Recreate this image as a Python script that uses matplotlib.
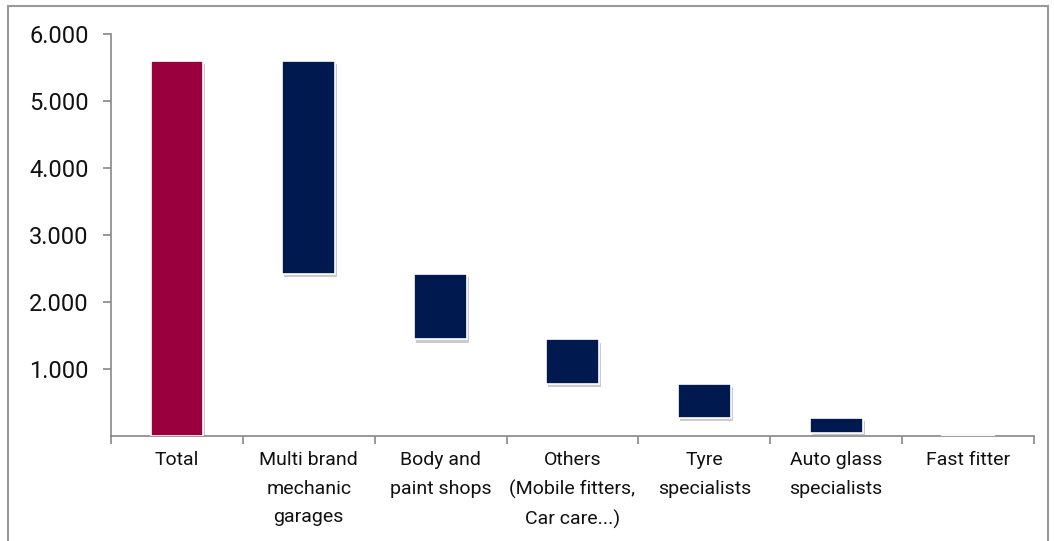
import matplotlib.pyplot as plt
import matplotlib.patheffects as pe
from matplotlib.patches import Rectangle
from matplotlib.ticker import FuncFormatter
import numpy as np

# waterfall data
categories = ["Total", "Multi brand\nmechanic\ngarages", "Body and\npaint shops",
              "Others\n(Mobile fitters,\nCar care...)", "Tyre\nspecialists",
              "Auto glass\nspecialists", "Fast fitter"]
total = 5600
steps = [3180, 975, 665, 505, 235, 40]

plt.rcParams['font.family'] = ['Roboto', 'DejaVu Sans']

heights = np.array([total] + steps, dtype=float)
bottoms = np.zeros(len(heights))
level = total
for i, s in enumerate(steps, start=1):
    level -= s
    bottoms[i] = level

colors = ["#9B003E"] + ["#001A4F"] * (len(steps) - 1) + ["#F4F4F4"]

fig = plt.figure(figsize=(10.54, 5.41), dpi=100)
ax = fig.add_axes([0.1053, 0.194, 0.8757, 0.743])

x = np.arange(len(categories))
shadow = [pe.SimplePatchShadow(offset=(1.5, -2.5), shadow_rgbFace="#999999", alpha=0.5), pe.Normal()]
bars = ax.bar(x, heights, bottom=bottoms, width=0.4, color=colors,
              edgecolor="white", linewidth=1.2, zorder=3)
for b in bars[:-1]:
    b.set_path_effects(shadow)

ax.set_xlim(-0.5, len(categories) - 0.5)
ax.set_ylim(0, 6000)
ax.set_yticks([1000, 2000, 3000, 4000, 5000, 6000])
ax.yaxis.set_major_formatter(FuncFormatter(lambda v, p: f"{int(v):,}".replace(",", ".")))
ax.tick_params(axis='y', length=6, width=1.2, color="#888888", labelsize=17, pad=10,
               labelcolor="#111111")

ax.set_xticks(np.arange(-0.5, len(categories), 1.0))
ax.set_xticklabels([])
ax.tick_params(axis='x', length=6, width=1.2, color="#888888", direction='out')
for xi, lab in zip(x, categories):
    ax.text(xi, -230, lab, ha='center', va='top', fontsize=14,
            linespacing=1.72, color="#111111")

for s in ['top', 'right']:
    ax.spines[s].set_visible(False)
for s in ['left', 'bottom']:
    ax.spines[s].set_color("#888888")
    ax.spines[s].set_linewidth(1.2)

# frame around the chart
fig.patches.append(Rectangle((8 / 1054, -0.05), 1040 / 1054, 1 - 6 / 541 + 0.05,
                             transform=fig.transFigure, fill=False,
                             edgecolor="#999999", linewidth=1.5))

fig.savefig("out.png", dpi=100)
